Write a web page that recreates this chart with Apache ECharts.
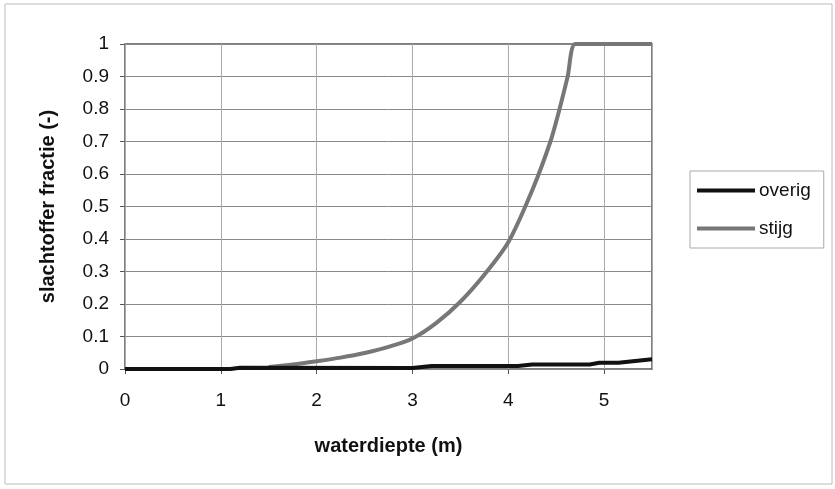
<!DOCTYPE html>
<html><head><meta charset="utf-8">
<script src="https://cdn.jsdelivr.net/npm/echarts@6/dist/echarts.min.js"></script>
<style>html,body{margin:0;padding:0;background:#fff}#c{width:835px;height:489px}</style>
</head><body><div id="c"></div>
<script>
const xTicks = [0, 1, 2, 3, 4, 5];
const yTicks = [0, 0.1, 0.2, 0.3, 0.4, 0.5, 0.6, 0.7, 0.8, 0.9, 1];
const overigX = [0, 1.1, 1.2, 3.0, 3.2, 4.1, 4.25, 4.85, 4.95, 5.15, 5.5];
const overigY = [0, 0, 0.004, 0.003, 0.009, 0.009, 0.014, 0.014, 0.019, 0.019, 0.03];
const stijgX = [1.5, 1.75, 2, 2.25, 2.5, 2.75, 3, 3.25, 3.5, 3.75, 4, 4.25, 4.44, 4.535, 4.62, 4.70, 5, 5.25, 5.5];
const stijgY = [0.006, 0.014, 0.024, 0.035, 0.049, 0.068, 0.094, 0.142, 0.207, 0.29, 0.39, 0.55, 0.70, 0.80, 0.90, 1.0, 1.0, 1.0, 1.0];

const chart = echarts.init(document.getElementById('c'), null, {renderer: 'canvas'});
const font = 'Liberation Sans, Arial, sans-serif';
chart.setOption({
  animation: false,
  backgroundColor: '#fff',
  graphic: [{
    type: 'rect', shape: {x: 5, y: 4, width: 827, height: 480},
    style: {fill: 'none', stroke: '#bbb', lineWidth: 1}, z: -1
  }],
  grid: {left: 125, top: 44, right: 183, bottom: 120, show: true, borderColor: '#555', borderWidth: 1.5},
  legend: {
    orient: 'vertical', left: 690, top: 171, itemGap: 19,
    itemWidth: 58, itemHeight: 4, icon: 'rect',
    padding: [10, 13, 10, 7], borderColor: '#aaa', borderWidth: 1,
    textStyle: {fontSize: 19, fontFamily: font, color: '#111', padding: [0, 0, 0, -1]},
    data: ['overig', 'stijg']
  },
  xAxis: {
    type: 'value', min: 0, max: 5.5, interval: 1,
    name: 'waterdiepte (m)', nameLocation: 'middle', nameGap: 67,
    nameTextStyle: {fontSize: 20, fontWeight: 'bold', fontFamily: font, color: '#111'},
    axisLine: {show: false},
    axisTick: {show: true, length: 5, lineStyle: {color: '#555'}},
    axisLabel: {fontSize: 19, fontFamily: font, color: '#111', margin: 22, showMaxLabel: false},
    splitLine: {show: true, lineStyle: {color: '#aaa', width: 1}}
  },
  yAxis: {
    type: 'value', min: 0, max: 1, interval: 0.1,
    name: 'slachtoffer fractie (-)', nameLocation: 'middle', nameGap: 67, nameRotate: 90,
    nameTextStyle: {fontSize: 20, fontWeight: 'bold', fontFamily: font, color: '#111'},
    axisLine: {show: false},
    axisTick: {show: true, length: 5, lineStyle: {color: '#555'}},
    axisLabel: {fontSize: 19, fontFamily: font, color: '#111', margin: 16},
    splitLine: {show: true, lineStyle: {color: '#888', width: 1}}
  },
  series: [
    {name: 'overig', type: 'line', showSymbol: false, z: 3,
     lineStyle: {color: '#111', width: 4}, itemStyle: {color: '#111'},
     data: overigX.map((x, i) => [x, overigY[i]])},
    {name: 'stijg', type: 'line', showSymbol: false, smooth: 0.25, z: 2,
     lineStyle: {color: '#777', width: 4}, itemStyle: {color: '#777'},
     data: stijgX.map((x, i) => [x, stijgY[i]])}
  ]
});
</script></body></html>
